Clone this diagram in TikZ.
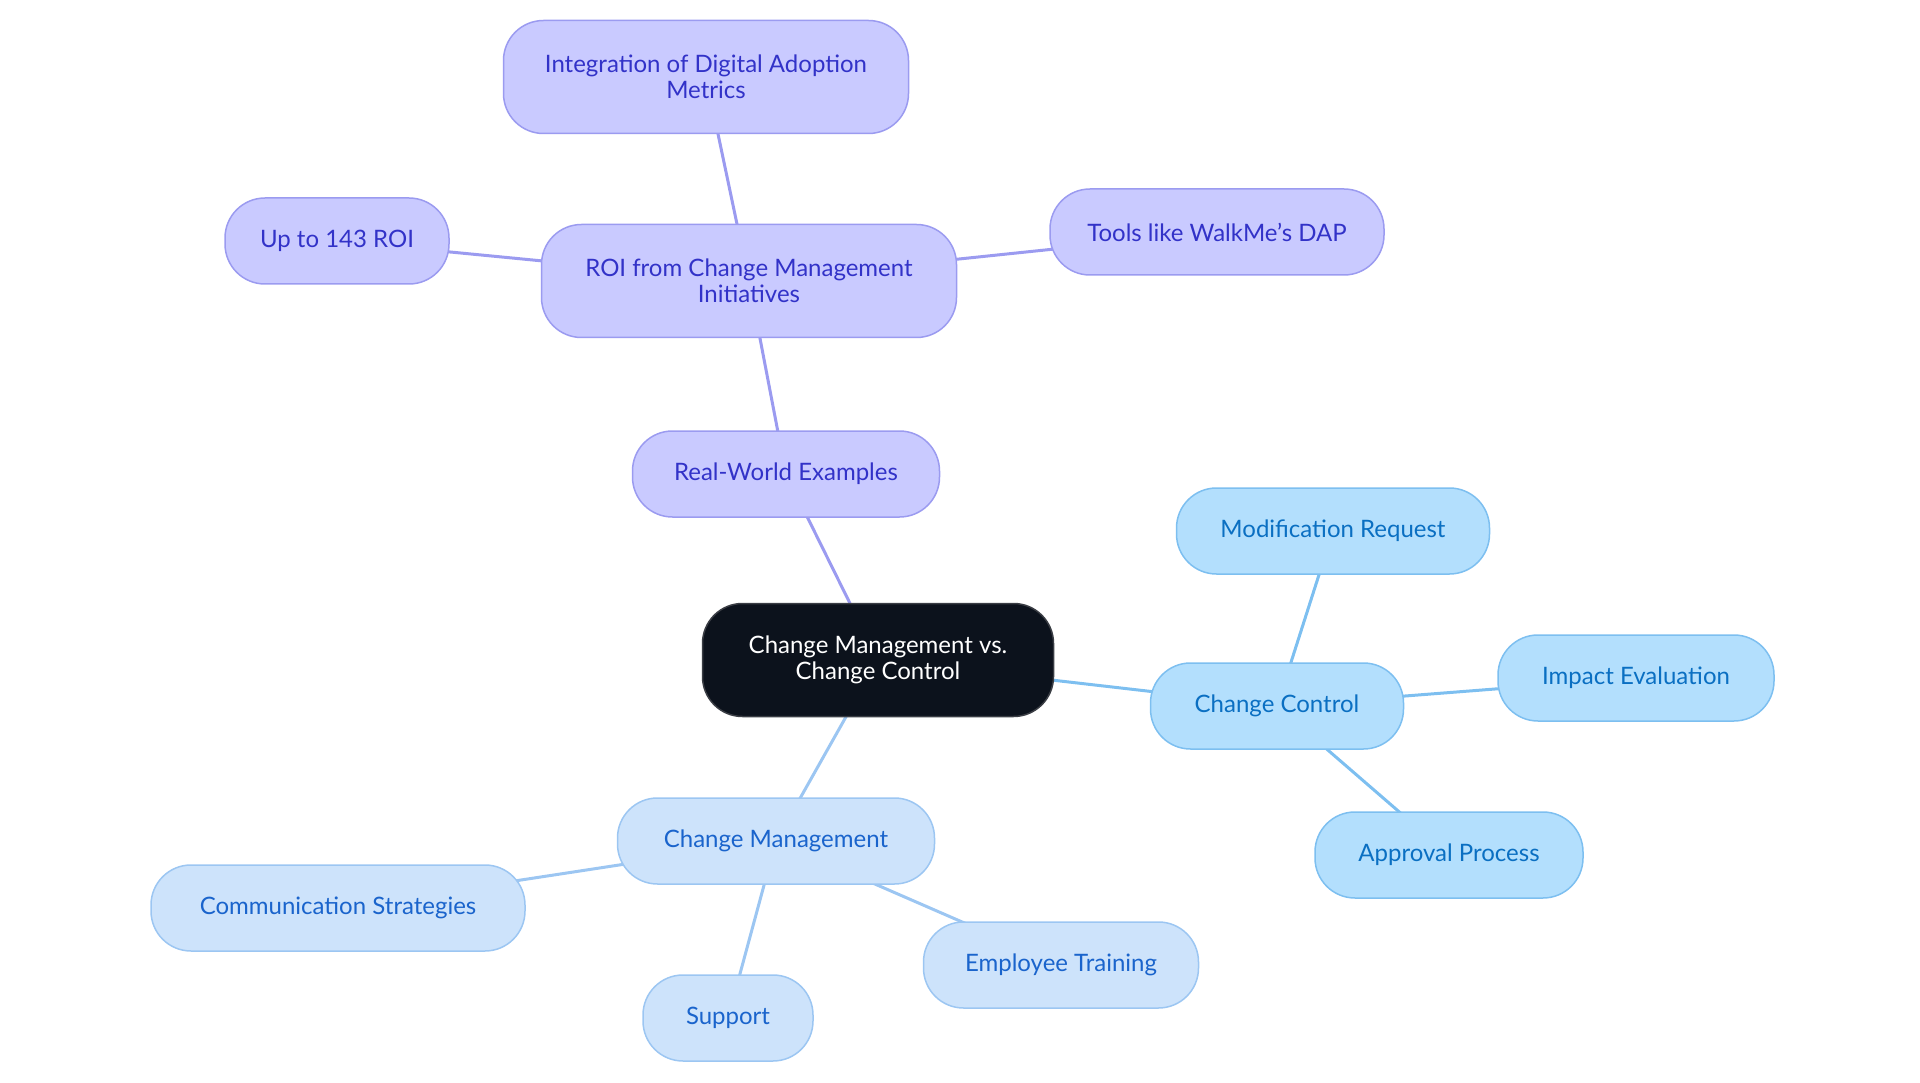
\documentclass[tikz,border=0pt]{standalone}
\usepackage{fontspec}
\usetikzlibrary{backgrounds}
\setmainfont{Lato}
\definecolor{rootfill}{HTML}{0C121C}
\definecolor{rootline}{HTML}{3A3D44}
\definecolor{exfill}{HTML}{C9CAFF}
\definecolor{exline}{HTML}{9B9BF0}
\definecolor{extext}{HTML}{3232C8}
\definecolor{ccfill}{HTML}{B3DFFD}
\definecolor{ccline}{HTML}{7DBFF0}
\definecolor{cctext}{HTML}{0A6FC2}
\definecolor{cmfill}{HTML}{CDE3FB}
\definecolor{cmline}{HTML}{9CC6F2}
\definecolor{cmtext}{HTML}{1A64CC}
\begin{document}
\begin{tikzpicture}[x=1pt, y=-1pt,
    box/.style={rectangle, rounded corners=40pt, line width=1.5pt, align=center,
        inner xsep=20pt, inner ysep=0pt, minimum height=86pt,
        font=\fontsize{24}{26}\selectfont},
    rootbox/.style={box, fill=rootfill, draw=rootline, text=white, minimum height=113pt},
    exbox/.style={box, fill=exfill, draw=exline, text=extext},
    ctrlbox/.style={box, fill=ccfill, draw=ccline, text=cctext},
    mgmtbox/.style={box, fill=cmfill, draw=cmline, text=cmtext},
    twoline/.style={minimum height=113pt},
    link/.style={line width=3pt}]
\useasboundingbox (0,0) rectangle (1920,1083);

\node[rootbox, minimum width=351pt] (root) at (878,660) {Change Management vs.\\Change Control};

% real-world examples branch
\node[exbox, minimum width=307pt] (real) at (786,474) {Real-World Examples};
\node[exbox, twoline, minimum width=415pt] (roi) at (749,281) {ROI from Change Management\\Initiatives};
\node[exbox, twoline, minimum width=405pt] (digital) at (706,77) {Integration of Digital Adoption\\Metrics};
\node[exbox, minimum width=224pt] (upto) at (337,241) {Up to 143 ROI};
\node[exbox, minimum width=334pt] (tools) at (1217,232) {Tools like WalkMe's DAP};

% change control branch
\node[ctrlbox, minimum width=253pt] (control) at (1277,706) {Change Control};
\node[ctrlbox, minimum width=313pt] (request) at (1333,531) {Modification Request};
\node[ctrlbox, minimum width=276pt] (impact) at (1636,678) {Impact Evaluation};
\node[ctrlbox, minimum width=268pt] (approval) at (1449,855) {Approval Process};

% change management branch
\node[mgmtbox, minimum width=317pt] (manage) at (776,841) {Change Management};
\node[mgmtbox, minimum width=374pt] (comm) at (338,908) {Communication Strategies};
\node[mgmtbox, minimum width=275pt] (training) at (1061,965) {Employee Training};
\node[mgmtbox, minimum width=170pt] (support) at (728,1018) {Support};

% links run centre to centre, behind the boxes
\begin{scope}[on background layer]
\draw[link, exline] (root.center) -- (real.center) -- (roi.center);
\foreach \n in {digital,upto,tools}
{
    \draw[link, exline] (roi.center) -- (\n.center);
}
\draw[link, ccline] (root.center) -- (control.center);
\foreach \n in {request,impact,approval}
{
    \draw[link, ccline] (control.center) -- (\n.center);
}
\draw[link, cmline] (root.center) -- (manage.center);
\foreach \n in {comm,training,support}
{
    \draw[link, cmline] (manage.center) -- (\n.center);
}
\end{scope}
\end{tikzpicture}
\end{document}
